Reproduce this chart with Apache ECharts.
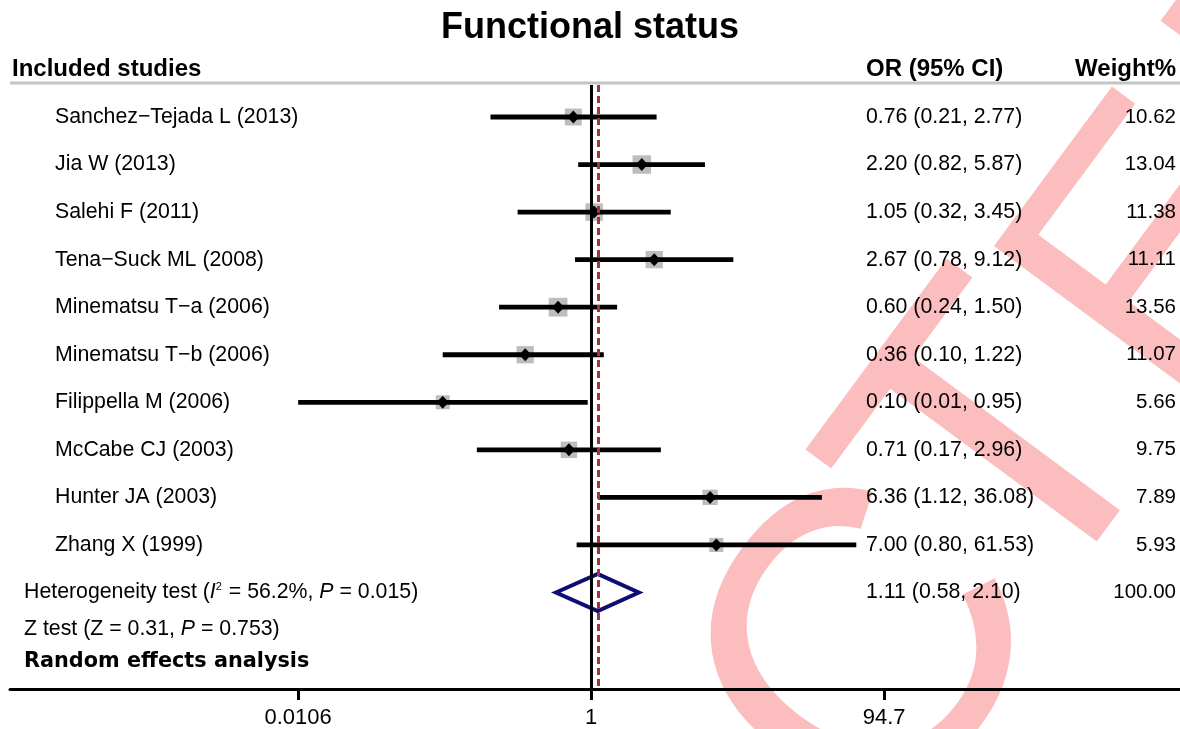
<!DOCTYPE html>
<html>
<head>
<meta charset="utf-8">
<title>Functional status</title>
<script src="https://cdn.jsdelivr.net/npm/echarts@6/dist/echarts.min.js"></script>
<style>
    html, body { margin: 0; padding: 0; background: #fff; }
    #chart { width: 1180px; height: 729px; }
</style>
</head>
<body>
<div id="chart"></div>
<script>
'use strict';

// studies, odds ratios with 95% CI, random-effects weights
const studies = ['Sanchez\u2212Tejada L (2013)', 'Jia W (2013)', 'Salehi F (2011)', 'Tena\u2212Suck ML (2008)',
    'Minematsu T\u2212a (2006)', 'Minematsu T\u2212b (2006)', 'Filippella M (2006)', 'McCabe CJ (2003)',
    'Hunter JA (2003)', 'Zhang X (1999)'];
const oddsRatio = [0.76, 2.20, 1.05, 2.67, 0.60, 0.36, 0.10, 0.71, 6.36, 7.00];
const ciLower = [0.21, 0.82, 0.32, 0.78, 0.24, 0.10, 0.0106, 0.17, 1.12, 0.80];
const ciUpper = [2.77, 5.87, 3.45, 9.12, 1.50, 1.22, 0.95, 2.96, 36.08, 61.53];
const weights = [10.62, 13.04, 11.38, 11.11, 13.56, 11.07, 5.66, 9.75, 7.89, 5.93];

const pooledOR = 1.11;
const pooledLower = 0.58;
const pooledUpper = 2.10;
const pooledWeight = 100.00;

const xTicks = [0.0106, 1, 94.7];
const xTickLabels = ['0.0106', '1', '94.7'];

(function () {
    const font = "'Liberation Sans', Arial, sans-serif";
    const log = v => Math.log10(v);
    const fmt = v => v.toFixed(2);
    const summaryRow = studies.length;

    const orText = studies.map((s, i) => `${fmt(oddsRatio[i])} (${fmt(ciLower[i])}, ${fmt(ciUpper[i])})`);
    orText.push(`${fmt(pooledOR)} (${fmt(pooledLower)}, ${fmt(pooledUpper)})`);
    const weightText = weights.map(fmt);
    weightText.push(fmt(pooledWeight));

    const rows = studies.map((s, i) => i);
    const allRows = rows.concat([summaryRow]);
    const tickPos = xTicks.map(log);

    const yBase = {
        type: 'value',
        min: -0.673,
        max: 12.03,
        inverse: true,
        axisLine: { show: false },
        axisTick: { show: false },
        splitLine: { show: false }
    };

    // stamp letters along one rotated baseline (only C, T, E, D fall on the canvas)
    const stampFill = 'rgba(238, 0, 0, 0.26)';
    const stampLetters = [['C', -269, 12, 420], ['T', 0, 0, 420], ['E', 254, 14, 380], ['D', 534, 14, 380]]
        .map(([ch, dx, dy, size]) => ({
            type: 'text', x: dx, y: dy,
            style: { text: ch, font: `${size}px ${font}`, fill: stampFill, textAlign: 'left', textVerticalAlign: 'middle' }
        }));

    const options = {
        animation: false,
        textStyle: { fontFamily: font, color: '#000' },
        title: {
            text: 'Functional status',
            left: 'center',
            top: 5,
            textStyle: { fontFamily: font, fontSize: 36, fontWeight: 'bold', color: '#000' }
        },
        grid: { left: 10, right: 0, top: 85, bottom: 40 },
        xAxis: {
            type: 'value',
            min: -3.918,
            max: 3.972,
            axisLine: { show: true, onZero: false, lineStyle: { color: '#000', width: 3 } },
            axisTick: { show: true, customValues: tickPos, length: 11, lineStyle: { color: '#000', width: 3 } },
            axisLabel: {
                customValues: tickPos,
                margin: 18,
                fontSize: 22,
                color: '#000',
                fontFamily: font,
                formatter: v => {
                    const i = tickPos.findIndex(t => Math.abs(t - v) < 1e-6);
                    return i >= 0 ? xTickLabels[i] : '';
                }
            },
            splitLine: { show: false }
        },
        yAxis: [
            Object.assign({}, yBase, {
                position: 'left',
                axisLabel: {
                    inside: true, margin: 45, customValues: rows, fontSize: 21.3, color: '#000', fontFamily: font,
                    formatter: v => studies[Math.round(v)] || ''
                }
            }),
            Object.assign({}, yBase, {
                position: 'right',
                offset: -314,
                axisLabel: {
                    inside: false, margin: 0, customValues: allRows, fontSize: 21.3, color: '#000', fontFamily: font,
                    formatter: v => orText[Math.round(v)] || ''
                }
            }),
            Object.assign({}, yBase, {
                position: 'right',
                axisLabel: {
                    inside: true, margin: 4, customValues: allRows, fontSize: 20.5, color: '#000', fontFamily: font,
                    formatter: v => weightText[Math.round(v)] || ''
                }
            })
        ],
        series: [
            {
                type: 'custom',
                z: 3,
                data: studies.map((s, i) => [log(ciLower[i]), log(ciUpper[i]), log(oddsRatio[i]), i, weights[i]]),
                renderItem: function (params, api) {
                    const row = api.value(3);
                    const lo = api.coord([api.value(0), row]);
                    const hi = api.coord([api.value(1), row]);
                    const est = api.coord([api.value(2), row]);
                    const side = 10.6 + 0.6 * api.value(4);
                    return {
                        type: 'group',
                        children: [
                            {
                                type: 'rect',
                                shape: { x: est[0] - side / 2, y: est[1] - side / 2, width: side, height: side },
                                style: { fill: '#bdbdbd' }
                            },
                            {
                                type: 'line',
                                shape: { x1: lo[0], y1: lo[1], x2: hi[0], y2: hi[1] },
                                style: { stroke: '#000', lineWidth: 4.8 }
                            },
                            {
                                type: 'polygon',
                                shape: { points: [[est[0] - 6, est[1]], [est[0], est[1] - 6.5], [est[0] + 6, est[1]], [est[0], est[1] + 6.5]] },
                                style: { fill: '#000' }
                            }
                        ]
                    };
                }
            },
            {
                type: 'custom',
                z: 4,
                data: [[log(pooledLower), log(pooledUpper), log(pooledOR), summaryRow]],
                renderItem: function (params, api) {
                    const row = api.value(3);
                    const lo = api.coord([api.value(0), row]);
                    const hi = api.coord([api.value(1), row]);
                    const est = api.coord([api.value(2), row]);
                    const h = 18.5;
                    return {
                        type: 'polygon',
                        shape: { points: [[lo[0], lo[1]], [est[0], est[1] - h], [hi[0], hi[1]], [est[0], est[1] + h]] },
                        style: { fill: 'none', stroke: '#0d0d74', lineWidth: 4, lineJoin: 'miter' }
                    };
                }
            },
            {
                type: 'line',
                z: 5,
                data: [],
                markLine: {
                    silent: true,
                    symbol: 'none',
                    label: { show: false },
                    animation: false,
                    data: [
                        { xAxis: 0, lineStyle: { color: '#000', width: 3, type: 'solid' } },
                        { xAxis: log(pooledOR), lineStyle: { color: '#a3323a', width: 3, type: [7, 4] } }
                    ]
                }
            }
        ],
        graphic: [
            {
                type: 'line',
                shape: { x1: 10, y1: 83, x2: 1180, y2: 83 },
                style: { stroke: '#c4c4c4', lineWidth: 3 }
            },
            {
                type: 'text', x: 12, y: 69,
                style: { text: 'Included studies', font: `bold 24px ${font}`, fill: '#000', textAlign: 'left', textVerticalAlign: 'middle' }
            },
            {
                type: 'text', x: 866, y: 69,
                style: { text: 'OR (95% CI)', font: `bold 24px ${font}`, fill: '#000', textAlign: 'left', textVerticalAlign: 'middle' }
            },
            {
                type: 'text', x: 1176, y: 69,
                style: { text: 'Weight%', font: `bold 24px ${font}`, fill: '#000', textAlign: 'right', textVerticalAlign: 'middle' }
            },
            {
                type: 'text', x: 24, y: 592,
                style: {
                    text: 'Heterogeneity test ({i|I}{sup|2} = 56.2%, {i|P} = 0.015)',
                    font: `21.3px ${font}`, fill: '#000', textAlign: 'left', textVerticalAlign: 'middle',
                    rich: {
                        i: { fontStyle: 'italic', fontSize: 21.3, fontFamily: font },
                        sup: { fontSize: 11, fontFamily: font, padding: [0, 1, 10, 0] }
                    }
                }
            },
            {
                type: 'text', x: 24, y: 629,
                style: {
                    text: 'Z test (Z = 0.31, {i|P} = 0.753)',
                    font: `21.3px ${font}`, fill: '#000', textAlign: 'left', textVerticalAlign: 'middle',
                    rich: { i: { fontStyle: 'italic', fontSize: 21.3, fontFamily: font } }
                }
            },
            {
                type: 'text', x: 24, y: 662,
                style: { text: 'Random effects analysis', font: "bold 20.8px 'DejaVu Sans', sans-serif", fill: '#000', textAlign: 'left', textVerticalAlign: 'middle' }
            },
            {
                type: 'group', x: 939, y: 560, rotation: 53.5 * Math.PI / 180, z: 100,
                children: stampLetters
            }
        ]
    };

    const chart = echarts.init(document.getElementById('chart'));
    chart.setOption(options);
})();
</script>
</body>
</html>
